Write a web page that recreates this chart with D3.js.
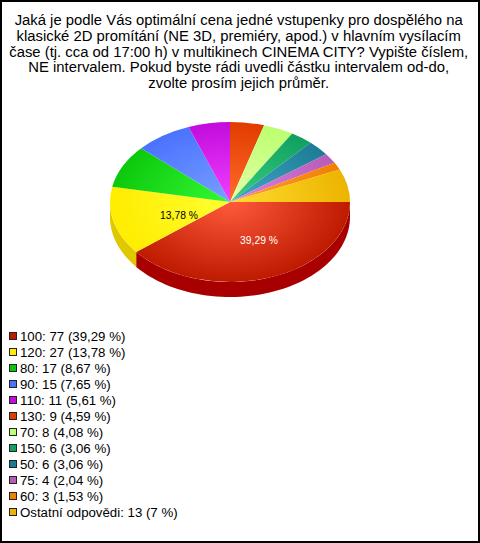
<!DOCTYPE html>
<html><head><meta charset="utf-8">
<script src="https://cdn.jsdelivr.net/npm/d3@7"></script>
<style>html,body{margin:0;padding:0;background:#fff}svg{display:block}text{font-family:"Liberation Sans",Arial,sans-serif}</style>
</head><body><svg id="c" width="480" height="543"></svg>
<script>
const titleLines = ["Jaká je podle Vás optimální cena jedné vstupenky pro dospělého na","klasické 2D promítání (NE 3D, premiéry, apod.) v hlavním vysílacím","čase (tj. cca od 17:00 h) v multikinech CINEMA CITY? Vypište číslem,","NE intervalem. Pokud byste rádi uvedli částku intervalem od-do,","zvolte prosím jejich průměr."];
const categories = ["100","120","80","90","110","130","70","150","50","75","60","Ostatní odpovědi"];
const counts = [77,27,17,15,11,9,8,6,6,4,3,13];
const percents = ["39,29","13,78","8,67","7,65","5,61","4,59","4,08","3,06","3,06","2,04","1,53","7"];
const edgeColors = ["#bd1a00","#ffec00","#0cc80c","#4a72ff","#c30cdc","#e23c00","#bcff70","#10a060","#1c7c96","#b85cb8","#f08000","#ecb400"];
const innerColors = ["#ff5a3c","#ffff30","#34fa34","#78a0ff","#f040ff","#ff6c2c","#e4ffa8","#38d080","#44a8c4","#e080e0","#ffa030","#ffdc30"];
const sideColors = ["#a80000","#e0c800"];
const W=480,H=543,cx=230,cy=202,rx=120,ry=80,depth=15;
const svg=d3.select("#c");
svg.append("rect").attr("x",1).attr("y",1).attr("width",W-2).attr("height",H-2).attr("fill","#fff").attr("stroke","#000").attr("stroke-width",2);
svg.append("g").selectAll("text").data(titleLines).join("text")
 .attr("x",238.7).attr("y",(d,i)=>25+i*15.75).attr("text-anchor","middle").attr("font-size",14.85).attr("fill","#000").text(d=>d);

const slices=d3.pie().sort(null).startAngle(Math.PI/2).endAngle(Math.PI*2.5)(counts);
const defs=svg.append("defs");
slices.forEach((s,i)=>{
  const g=defs.append("radialGradient").attr("id","g"+i).attr("gradientUnits","userSpaceOnUse").attr("cx",0).attr("cy",0).attr("r",rx);
  g.append("stop").attr("offset",0).attr("stop-color",innerColors[i]);
  g.append("stop").attr("offset",1).attr("stop-color",edgeColors[i]);
});
const xs=d3.scaleLinear().domain([-1,1]).range([cx-rx,cx+rx]);
const ys=d3.scaleLinear().domain([-1,1]).range([cy-ry,cy+ry]);
const wall=d3.area().x(a=>xs(Math.sin(a))).y0(a=>ys(-Math.cos(a))).y1(a=>ys(-Math.cos(a))+depth);
slices.slice(0,2).forEach((s,i)=>{
  const a0=Math.max(s.startAngle,Math.PI/2),a1=Math.min(s.endAngle,Math.PI*1.5);
  const pts=d3.range(0,61).map(k=>a0+(a1-a0)*k/60);
  svg.append("path").attr("d",wall(pts)).attr("fill",sideColors[i]);
});
const arc=d3.arc().innerRadius(0).outerRadius(rx);
const pie=svg.append("g").attr("transform",`translate(${cx},${cy}) scale(1,${ry/rx})`);
pie.selectAll("path").data(slices).join("path").attr("d",arc).attr("fill",(d,i)=>`url(#g${i})`);

const pieLabels=[{i:0,x:259,y:244,c:"#fff"},{i:1,x:179,y:219,c:"#000"}];
svg.append("g").selectAll("text").data(pieLabels).join("text")
 .attr("x",d=>d.x).attr("y",d=>d.y).attr("text-anchor","middle").attr("font-size",10.3).attr("fill",d=>d.c)
 .text(d=>percents[d.i]+" %");

const ly=d3.scalePoint().domain(d3.range(categories.length)).range([336,512]);
const leg=svg.append("g").selectAll("g").data(categories).join("g").attr("transform",(d,i)=>`translate(0,${ly(i)})`);
leg.append("rect").attr("x",9.5).attr("y",-3.5).attr("width",7).attr("height",7).attr("fill",(d,i)=>edgeColors[i]).attr("stroke","#222").attr("stroke-width",1);
leg.append("text").attr("x",20).attr("y",5).attr("font-size",13.25).attr("fill","#000")
 .text((d,i)=>`${d}: ${counts[i]} (${percents[i]} %)`);
</script></body></html>
